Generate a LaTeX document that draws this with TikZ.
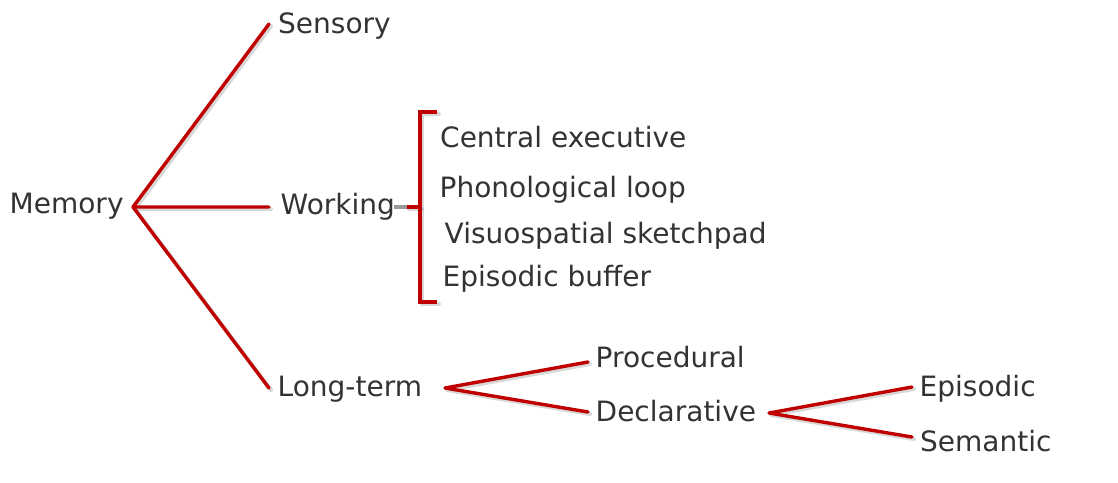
\documentclass[tikz,border=0pt]{standalone}
\usepackage{fontspec}
\setmainfont{DejaVu Sans}
\definecolor{linered}{RGB}{192,0,0}
\definecolor{txtgray}{RGB}{51,51,51}
\tikzset{
  lbl/.style={anchor=base west, inner sep=0pt, text=txtgray, font=\fontsize{28}{34}\selectfont},
  link/.style={draw=linered, line width=3.4pt, line cap=round, line join=round},
  shadow/.style={draw=black!50, opacity=0.3, line width=4pt, line cap=round, line join=round, transform canvas={shift={(2pt,-2pt)}}},
}
\begin{document}
\begin{tikzpicture}[x=1pt,y=-1pt]
\useasboundingbox (0,0) rectangle (1118,482);
\fill[white] (0,0) rectangle (1118,482);

% text nodes
\node[lbl] (mem) at (9.5,213.5) {Memory};
\node[lbl] (sens) at (278,33.5) {Sensory};
\node[lbl] (work) at (280.5,214.5) {Working};
\node[lbl] (long) at (277.5,396.5) {Long-term};
\node[lbl] (ce) at (440,147.5) {Central executive};
\node[lbl] (pl) at (439.5,197.5) {Phonological loop};
\node[lbl] (vs) at (444.5,243.5) {Visuospatial sketchpad};
\node[lbl] (eb) at (442.5,286.5) {Episodic buffer};
\node[lbl] (proc) at (595.5,367.5) {Procedural};
\node[lbl] (decl) at (595.5,421.5) {Declarative};
\node[lbl] (epi) at (919.5,396) {Episodic};
\node[lbl] (sem) at (920,451) {Semantic};

% junctions and line ends
\coordinate (jm) at (133,207);
\coordinate (esens) at (269,24);
\coordinate (ework) at (269,207);
\coordinate (elong) at (269,388);
\coordinate (jl) at (445,388);
\coordinate (eproc) at (588,362);
\coordinate (edecl) at (588,412);
\coordinate (jd) at (769,413);
\coordinate (eepi) at (912,387);
\coordinate (esem) at (912,437);
\coordinate (bt) at (437,112);
\coordinate (btl) at (420,112);
\coordinate (bbl) at (420,302);
\coordinate (bb) at (437,302);
\coordinate (bm) at (420,207);
\coordinate (bs) at (407,207);
\coordinate (bg) at (394,207);

% shadows
\draw[shadow] (esens) -- (jm) -- (ework);
\draw[shadow] (jm) -- (elong);
\draw[shadow] (eproc) -- (jl) -- (edecl);
\draw[shadow] (eepi) -- (jd) -- (esem);
\draw[shadow] (bt) -- (btl) -- (bbl) -- (bb);
\draw[shadow] (bs) -- (bm);

% connectors
\draw[link] (esens) -- (jm) -- (ework);
\draw[link] (jm) -- (elong);
\draw[link] (eproc) -- (jl) -- (edecl);
\draw[link] (eepi) -- (jd) -- (esem);
\draw[draw=black!40, line width=3.4pt] (bg) -- (bs);
\draw[link, line cap=butt, line join=miter] (bt) -- (btl) -- (bbl) -- (bb);
\draw[link, line cap=butt] (bs) -- (bm);
\end{tikzpicture}
\end{document}
